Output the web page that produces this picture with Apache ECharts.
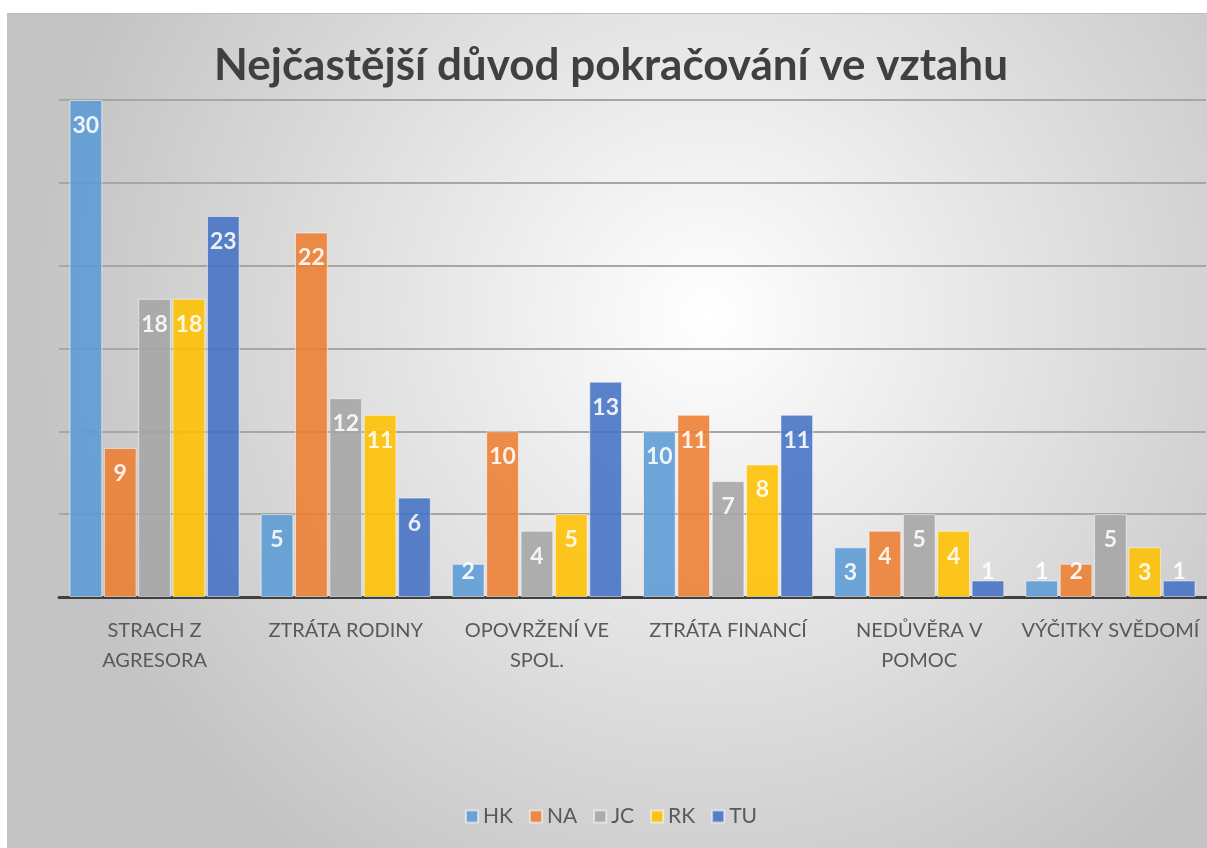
<!DOCTYPE html>
<html>
<head>
<meta charset="utf-8">
<script src="https://cdn.jsdelivr.net/npm/echarts@6/dist/echarts.min.js"></script>
<style>
  html, body { margin: 0; padding: 0; background: #fff; overflow: hidden; width: 1207px; height: 848px; }
  #chart { position: absolute; left: 7px; top: 13px; width: 1208px; height: 840px; border-top: 1px solid #bdbdbd; }
</style>
</head>
<body>
<div id="chart"></div>
<script>
  const categories = ['STRACH Z\nAGRESORA', 'ZTRÁTA RODINY', 'OPOVRŽENÍ VE\nSPOL.', 'ZTRÁTA FINANCÍ', 'NEDŮVĚRA V\nPOMOC', 'VÝČITKY SVĚDOMÍ']
  const seriesNames = ['HK', 'NA', 'JC', 'RK', 'TU']
  const hk = [30, 5, 2, 10, 3, 1]
  const na = [9, 22, 10, 11, 4, 2]
  const jc = [18, 12, 4, 7, 5, 5]
  const rk = [18, 11, 5, 8, 4, 3]
  const tu = [23, 6, 13, 11, 1, 1]
  const colors = ['#5b9bd5', '#ed7d31', '#a5a5a5', '#ffc000', '#4472c4']

  const chart = echarts.init(document.getElementById('chart'))

  // short bars get their label lifted off the axis, like Excel does
  const makeSeries = (name, values, color) => ({
    name,
    type: 'bar',
    barGap: '5%',
    barCategoryGap: '11%',
    data: values.map(v => v < 3
      ? { value: v, label: { position: 'insideBottom', distance: 14 } }
      : v),
    itemStyle: {
      color,
      opacity: 0.88,
      borderColor: 'rgba(255,255,255,0.6)',
      borderWidth: 1
    },
    label: {
      show: true,
      position: 'insideTop',
      distance: 14,
      color: '#fff',
      fontFamily: 'Lato',
      fontWeight: 'bold',
      fontSize: 23
    }
  })

  const option = {
    backgroundColor: {
      type: 'radial',
      x: 0.58, y: 0.36, r: 0.8,
      colorStops: [
        { offset: 0, color: '#ffffff' },
        { offset: 1, color: '#c4c4c4' }
      ]
    },
    color: colors,
    title: {
      text: 'Nejčastější důvod pokračování ve vztahu',
      left: 'center',
      top: 25,
      textStyle: {
        fontFamily: 'Lato',
        fontWeight: 'bold',
        fontSize: 44,
        color: '#404040'
      }
    },
    legend: {
      data: seriesNames,
      bottom: 22,
      left: 'center',
      icon: 'rect',
      itemWidth: 12,
      itemHeight: 12,
      itemGap: 16,
      textStyle: { fontFamily: 'Lato', fontSize: 21, color: '#595959' }
    },
    grid: {
      left: 52,
      right: 9,
      top: 86,
      bottom: 257,
      containLabel: false
    },
    xAxis: {
      type: 'category',
      data: categories,
      axisLine: { lineStyle: { color: '#404040', width: 3 } },
      axisTick: { show: false },
      axisLabel: {
        color: '#595959',
        fontFamily: 'Lato',
        fontSize: 20,
        lineHeight: 30,
        margin: 19,
        interval: 0
      }
    },
    yAxis: {
      type: 'value',
      min: 0,
      max: 30,
      interval: 5,
      axisLine: { show: false },
      axisTick: { show: false },
      axisLabel: { show: false },
      splitLine: { lineStyle: { color: '#a6a6a6', width: 2 } }
    },
    series: [
      makeSeries(seriesNames[0], hk, colors[0]),
      makeSeries(seriesNames[1], na, colors[1]),
      makeSeries(seriesNames[2], jc, colors[2]),
      makeSeries(seriesNames[3], rk, colors[3]),
      makeSeries(seriesNames[4], tu, colors[4])
    ]
  }

  chart.setOption(option)
</script>
</body>
</html>
